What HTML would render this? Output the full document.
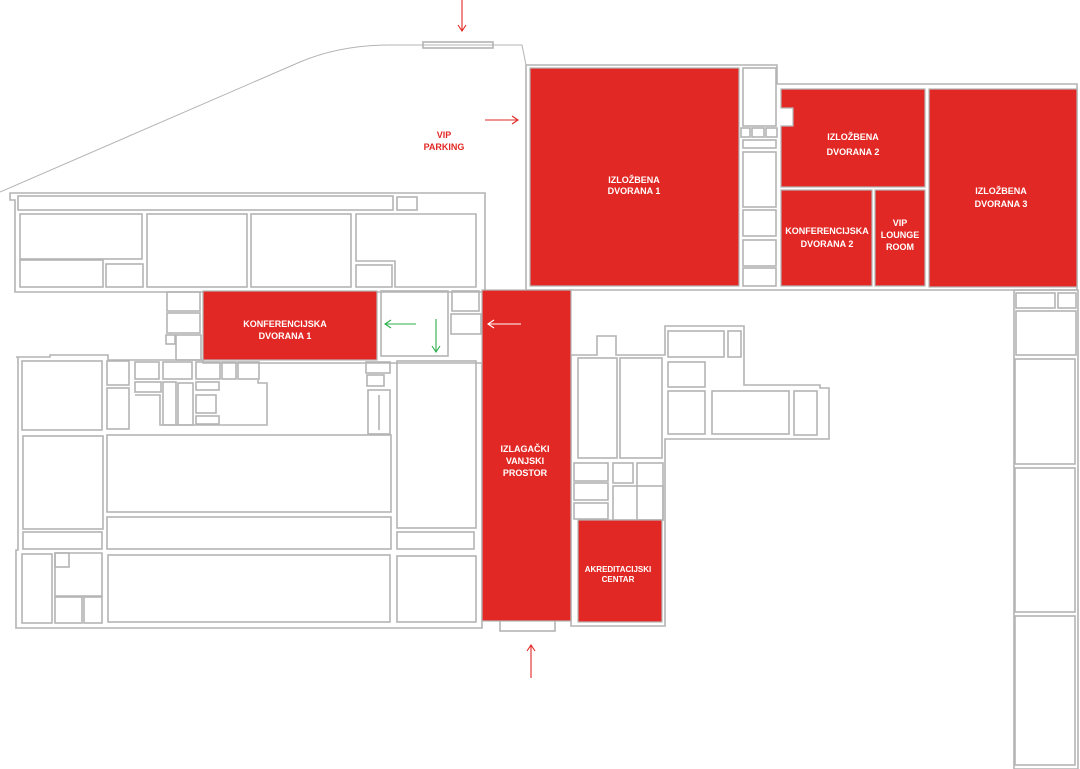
<!DOCTYPE html>
<html><head><meta charset="utf-8"><style>
html,body{margin:0;padding:0;background:#fff;}
svg{display:block;}
.w{fill:none;stroke:#b4b4b4;stroke-width:1.6;}
.r{fill:#e22824;stroke:#b4b4b4;stroke-width:1.2;}
.t{font-family:"Liberation Sans",sans-serif;font-weight:bold;font-size:9px;fill:#fff;text-anchor:middle;}
.tr{font-family:"Liberation Sans",sans-serif;font-weight:bold;font-size:9px;fill:#e22824;text-anchor:middle;}
</style></head><body>
<svg width="1080" height="769" viewBox="0 0 1080 769" xmlns="http://www.w3.org/2000/svg">
<!-- top road -->
<path class="w" d="M0,192 L300,62 Q340,45 390,45 L522,45 L526,65" style="stroke-width:1"/>
<rect class="w" x="423" y="42" width="70" height="6"/>

<!-- top-left building -->
<path class="w" d="M10,193 L485,193 L485,292 L15,292 L15,200 L10,200 Z"/>
<rect class="w" x="18" y="196" width="375" height="14"/>
<rect class="w" x="397" y="197" width="20" height="13"/>
<rect class="w" x="20" y="214" width="122" height="45"/>
<rect class="w" x="20" y="260" width="83" height="27"/>
<rect class="w" x="106" y="264" width="37" height="23"/>
<rect class="w" x="147" y="214" width="100" height="73"/>
<rect class="w" x="251" y="214" width="100" height="73"/>
<path class="w" d="M356,214 L476,214 L476,287 L395,287 L395,261 L356,261 Z"/>
<rect class="w" x="356" y="265" width="36" height="22"/>

<!-- connectors -->
<rect class="w" x="167" y="292" width="33" height="19"/>
<rect class="w" x="167" y="313" width="33" height="20"/>
<rect class="w" x="166" y="335" width="9" height="9"/>
<rect class="w" x="176" y="335" width="25" height="25"/>
<rect class="w" x="381" y="291" width="67" height="65"/>
<rect class="w" x="452" y="291" width="27" height="20"/>
<rect class="w" x="451" y="314" width="30" height="20"/>

<!-- lower-left building -->
<path class="w" d="M16,357 L50,357 L50,355 L108,355 L108,360 L203,360 L203,363 L482,363 L482,628 L16,628 L16,550 L18,550 L18,357 Z"/>
<rect class="w" x="22" y="361" width="80" height="69"/>
<rect class="w" x="107" y="361" width="22" height="24"/>
<rect class="w" x="107" y="388" width="22" height="41"/>
<rect class="w" x="23" y="436" width="80" height="93"/>
<rect class="w" x="107" y="435" width="284" height="77"/>
<rect class="w" x="23" y="532" width="79" height="17"/>
<rect class="w" x="107" y="517" width="284" height="32"/>
<rect class="w" x="22" y="554" width="30" height="69"/>
<path class="w" d="M55,553 L102,553 L102,596 L55,596 Z"/>
<rect class="w" x="55" y="553" width="14" height="14"/>
<rect class="w" x="55" y="597" width="27" height="26"/>
<rect class="w" x="84" y="597" width="18" height="26"/>
<rect class="w" x="108" y="555" width="282" height="67"/>
<rect class="w" x="397" y="361" width="79" height="167"/>
<rect class="w" x="397" y="532" width="77" height="17"/>
<rect class="w" x="397" y="556" width="79" height="66"/>
<!-- clutter -->
<rect class="w" x="135" y="362" width="24" height="17"/>
<rect class="w" x="163" y="362" width="29" height="17"/>
<rect class="w" x="196" y="362" width="24" height="17"/>
<rect class="w" x="222" y="362" width="14" height="17"/>
<rect class="w" x="238" y="362" width="21" height="17"/>
<rect class="w" x="135" y="382" width="26" height="10"/>
<path class="w" d="M135,395 L160,395 L160,425 L267,425 L267,383 L258,383 L258,380"/>
<rect class="w" x="163" y="382" width="13" height="43"/>
<rect class="w" x="178" y="383" width="15" height="42"/>
<rect class="w" x="196" y="382" width="23" height="8"/>
<rect class="w" x="196" y="395" width="20" height="18"/>
<rect class="w" x="196" y="416" width="23" height="8"/>
<rect class="w" x="366" y="362" width="24" height="11"/>
<rect class="w" x="367" y="375" width="17" height="11"/>
<rect class="w" x="368" y="390" width="22" height="44"/>
<line class="w" x1="379" y1="395" x2="379" y2="430"/>

<!-- top-right building -->
<path class="w" d="M526,65 L777,65 L777,84 L1077,84 L1077,290 L526,290 Z"/>
<rect class="w" x="743" y="68" width="33" height="58"/>
<rect class="w" x="741" y="128" width="9" height="9"/>
<rect class="w" x="752" y="128" width="12" height="9"/>
<rect class="w" x="766" y="128" width="11" height="9"/>
<rect class="w" x="743" y="140" width="33" height="8"/>
<rect class="w" x="743" y="152" width="33" height="55"/>
<rect class="w" x="743" y="210" width="33" height="26"/>
<rect class="w" x="743" y="240" width="33" height="26"/>
<rect class="w" x="743" y="268" width="33" height="18"/>

<!-- middle right block -->
<path class="w" d="M571,355 L597,355 L597,336 L616,336 L616,355 L665,355 L665,326 L744,326 L744,360 L744,385 L820,385 L820,388 L829,388 L829,439 L665,439 L665,525 L665,626 L571,626 Z"/>
<rect class="w" x="578" y="358" width="39" height="100"/>
<rect class="w" x="620" y="358" width="42" height="100"/>
<rect class="w" x="668" y="331" width="56" height="26"/>
<rect class="w" x="728" y="331" width="13" height="26"/>
<rect class="w" x="668" y="362" width="37" height="25"/>
<rect class="w" x="668" y="391" width="37" height="43"/>
<rect class="w" x="712" y="391" width="77" height="43"/>
<rect class="w" x="794" y="391" width="23" height="44"/>
<rect class="w" x="574" y="463" width="34" height="18"/>
<rect class="w" x="574" y="483" width="34" height="17"/>
<rect class="w" x="574" y="503" width="34" height="16"/>
<rect class="w" x="613" y="463" width="20" height="20"/>
<rect class="w" x="637" y="463" width="26" height="57"/>
<rect class="w" x="613" y="486" width="50" height="34"/>
<rect class="w" x="500" y="619" width="55" height="12"/>

<!-- far right column -->
<path class="w" d="M1014,290 L1078,290 L1078,769 L1014,769 Z"/>
<rect class="w" x="1016" y="293" width="39" height="15"/>
<rect class="w" x="1058" y="293" width="18" height="15"/>
<rect class="w" x="1016" y="311" width="60" height="44"/>
<rect class="w" x="1015" y="359" width="60" height="105"/>
<rect class="w" x="1015" y="468" width="60" height="144"/>
<rect class="w" x="1015" y="616" width="60" height="149"/>

<!-- red halls -->
<rect class="r" x="530" y="68" width="209" height="218"/>
<path class="r" d="M781,89 L925,89 L925,187 L781,187 L781,126 L793,126 L793,108 L781,108 Z"/>
<rect class="r" x="781" y="190" width="91" height="96"/>
<rect class="r" x="875" y="190" width="50" height="96"/>
<rect class="r" x="929" y="89" width="148" height="198"/>
<rect class="r" x="203" y="291" width="174" height="69"/>
<rect class="r" x="482" y="290" width="89" height="331"/>
<rect class="r" x="578" y="520" width="84" height="102"/>

<!-- labels -->
<text class="t" x="634" y="183">IZLOŽBENA</text><text class="t" x="634" y="194">DVORANA 1</text>
<text class="t" x="853" y="140">IZLOŽBENA</text><text class="t" x="853" y="155">DVORANA 2</text>
<text class="t" x="1001" y="194">IZLOŽBENA</text><text class="t" x="1001" y="207">DVORANA 3</text>
<text class="t" x="827" y="234">KONFERENCIJSKA</text><text class="t" x="827" y="247">DVORANA 2</text>
<text class="t" x="900" y="226">VIP</text><text class="t" x="900" y="238">LOUNGE</text><text class="t" x="900" y="250">ROOM</text>
<text class="t" x="285" y="327">KONFERENCIJSKA</text><text class="t" x="285" y="339">DVORANA 1</text>
<text class="t" x="525" y="452">IZLAGAČKI</text><text class="t" x="525" y="464">VANJSKI</text><text class="t" x="525" y="476">PROSTOR</text>
<text class="t" x="618" y="572" style="font-size:8px">AKREDITACIJSKI</text><text class="t" x="618" y="582" style="font-size:8px">CENTAR</text>
<text class="tr" x="444" y="138">VIP</text><text class="tr" x="444" y="150">PARKING</text>

<!-- arrows -->
<g fill="none" stroke-width="1.1">
<path stroke="#e22824" d="M462,0 V30 M458,25 L462,31 L466,25"/>
<path stroke="#e22824" d="M485,120 H517 M512,116 L518,120 L512,124"/>
<path stroke="#e22824" d="M531,678 V646 M527,651 L531,645 L535,651"/>
<path stroke="#fff" d="M521,324 H489 M494,320 L488,324 L494,328"/>
<path stroke="#2cae4a" d="M416,324 H386 M391,320 L385,324 L391,328"/>
<path stroke="#2cae4a" d="M436,319 V351 M432,346 L436,352 L440,346"/>
</g>
</svg>
</body></html>
